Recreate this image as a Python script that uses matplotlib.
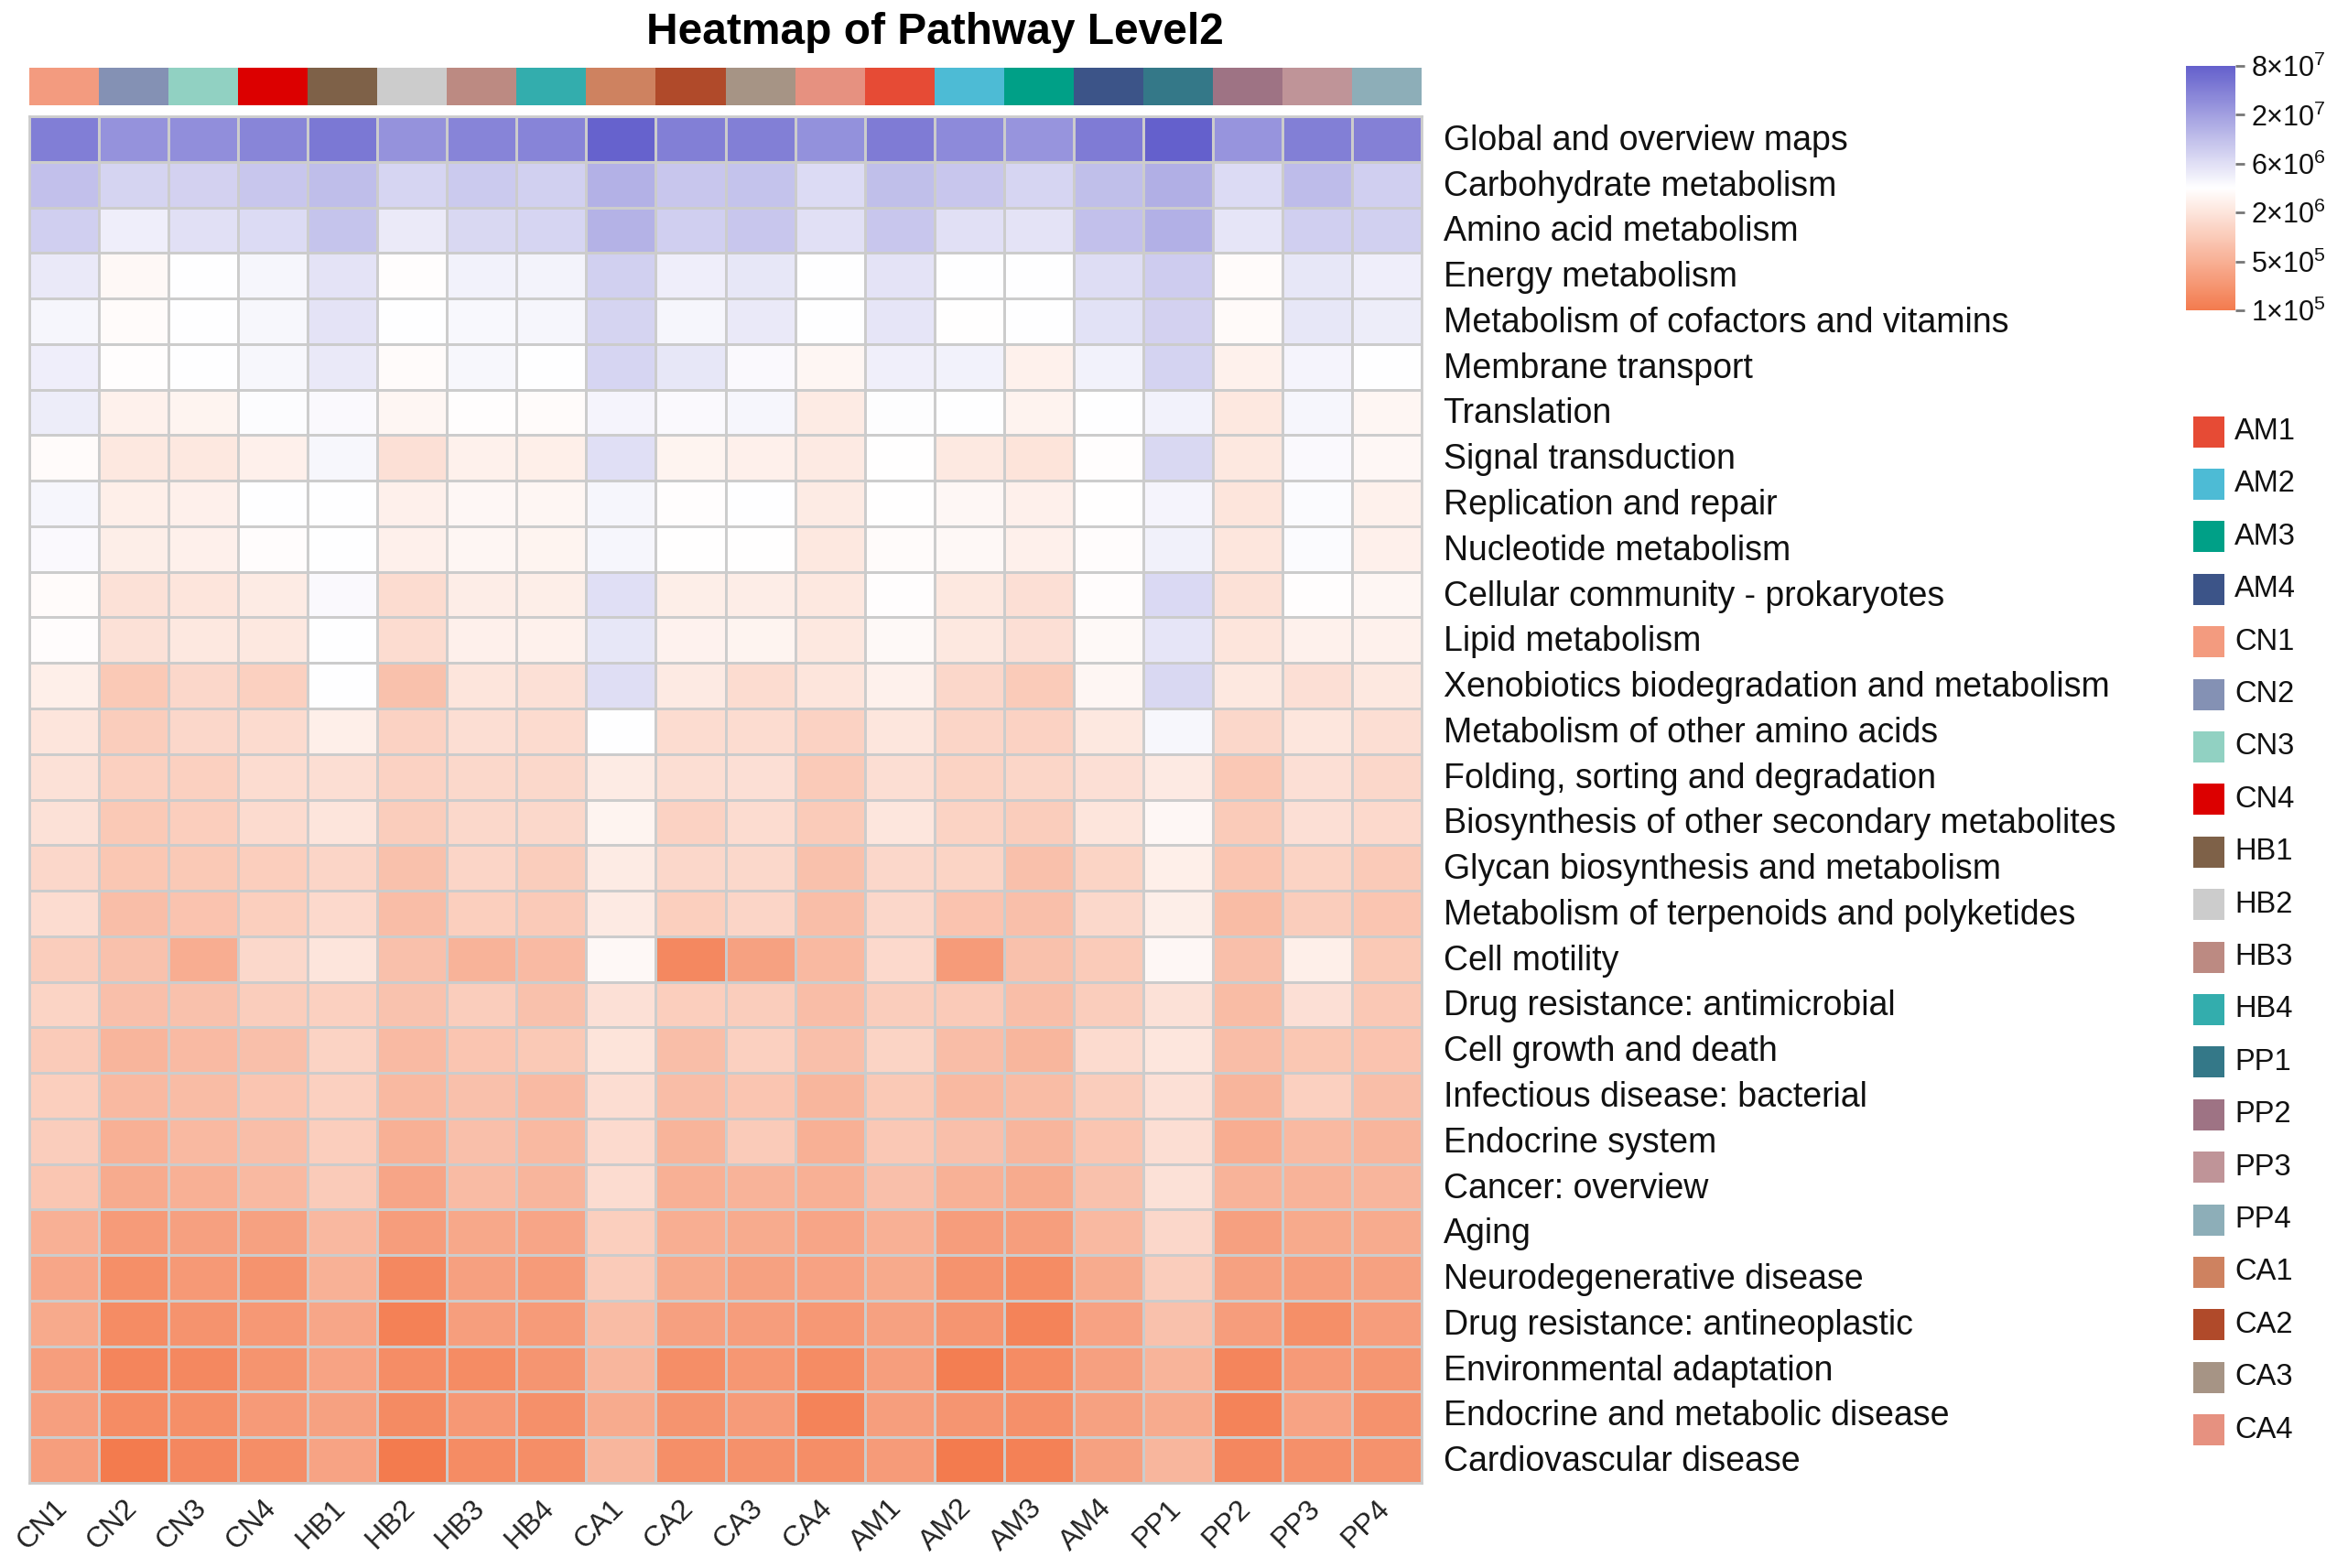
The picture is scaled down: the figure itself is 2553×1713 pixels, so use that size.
import numpy as np
import matplotlib
matplotlib.use('Agg')
import matplotlib.pyplot as plt
from matplotlib.colors import LinearSegmentedColormap, ListedColormap, Normalize
from matplotlib.cm import ScalarMappable
from matplotlib.patches import Rectangle
from matplotlib.transforms import ScaledTranslation

plt.rcParams['font.family'] = ['Liberation Sans', 'DejaVu Sans']
plt.rcParams['mathtext.fontset'] = 'custom'
plt.rcParams['mathtext.rm'] = 'Liberation Sans'

W, H = 2553, 1713

samples = ['CN1', 'CN2', 'CN3', 'CN4', 'HB1', 'HB2', 'HB3', 'HB4', 'CA1', 'CA2',
           'CA3', 'CA4', 'AM1', 'AM2', 'AM3', 'AM4', 'PP1', 'PP2', 'PP3', 'PP4']

pathways = ['Global and overview maps', 'Carbohydrate metabolism', 'Amino acid metabolism',
            'Energy metabolism', 'Metabolism of cofactors and vitamins', 'Membrane transport',
            'Translation', 'Signal transduction', 'Replication and repair', 'Nucleotide metabolism',
            'Cellular community - prokaryotes', 'Lipid metabolism',
            'Xenobiotics biodegradation and metabolism', 'Metabolism of other amino acids',
            'Folding, sorting and degradation', 'Biosynthesis of other secondary metabolites',
            'Glycan biosynthesis and metabolism', 'Metabolism of terpenoids and polyketides',
            'Cell motility', 'Drug resistance: antimicrobial', 'Cell growth and death',
            'Infectious disease: bacterial', 'Endocrine system', 'Cancer: overview', 'Aging',
            'Neurodegenerative disease', 'Drug resistance: antineoplastic', 'Environmental adaptation',
            'Endocrine and metabolic disease', 'Cardiovascular disease']

# log10 of abundance
log_abundance = [
    [7.62, 7.44, 7.48, 7.55, 7.68, 7.44, 7.57, 7.57, 7.87, 7.61, 7.61, 7.45, 7.65, 7.51, 7.42, 7.65, 7.89, 7.42, 7.61, 7.60],
    [7.02, 6.84, 6.86, 6.96, 7.04, 6.83, 6.93, 6.88, 7.16, 6.97, 7.00, 6.77, 7.03, 6.96, 6.83, 7.03, 7.18, 6.77, 7.06, 6.89],
    [6.89, 6.60, 6.73, 6.77, 6.99, 6.64, 6.81, 6.83, 7.15, 6.89, 6.96, 6.73, 6.97, 6.73, 6.70, 7.02, 7.17, 6.68, 6.89, 6.88],
    [6.65, 6.38, 6.45, 6.54, 6.71, 6.43, 6.57, 6.56, 6.88, 6.60, 6.67, 6.45, 6.70, 6.45, 6.45, 6.76, 6.91, 6.41, 6.67, 6.60],
    [6.54, 6.41, 6.45, 6.52, 6.70, 6.45, 6.51, 6.54, 6.84, 6.54, 6.65, 6.45, 6.68, 6.44, 6.45, 6.72, 6.86, 6.40, 6.67, 6.61],
    [6.60, 6.43, 6.45, 6.52, 6.65, 6.41, 6.52, 6.45, 6.83, 6.67, 6.50, 6.35, 6.59, 6.57, 6.30, 6.57, 6.85, 6.30, 6.55, 6.45],
    [6.61, 6.30, 6.33, 6.48, 6.50, 6.35, 6.43, 6.41, 6.55, 6.50, 6.54, 6.23, 6.47, 6.45, 6.32, 6.45, 6.57, 6.19, 6.54, 6.35],
    [6.41, 6.19, 6.20, 6.29, 6.52, 6.12, 6.30, 6.27, 6.74, 6.33, 6.29, 6.22, 6.44, 6.21, 6.15, 6.43, 6.81, 6.19, 6.50, 6.36],
    [6.54, 6.28, 6.29, 6.45, 6.45, 6.29, 6.36, 6.35, 6.54, 6.43, 6.45, 6.23, 6.44, 6.36, 6.29, 6.44, 6.55, 6.16, 6.49, 6.30],
    [6.50, 6.26, 6.29, 6.42, 6.45, 6.29, 6.35, 6.33, 6.54, 6.44, 6.44, 6.20, 6.41, 6.38, 6.29, 6.42, 6.58, 6.17, 6.49, 6.29],
    [6.41, 6.13, 6.16, 6.23, 6.50, 6.07, 6.25, 6.26, 6.74, 6.26, 6.25, 6.19, 6.43, 6.19, 6.10, 6.42, 6.80, 6.13, 6.43, 6.35],
    [6.42, 6.13, 6.19, 6.20, 6.45, 6.07, 6.29, 6.30, 6.67, 6.31, 6.33, 6.19, 6.39, 6.20, 6.10, 6.39, 6.68, 6.16, 6.30, 6.30],
    [6.27, 5.86, 6.01, 5.93, 6.45, 5.78, 6.16, 6.12, 6.75, 6.22, 6.07, 6.16, 6.30, 6.01, 5.88, 6.35, 6.81, 6.19, 6.10, 6.19],
    [6.16, 5.90, 6.01, 6.06, 6.27, 5.96, 6.09, 6.06, 6.45, 6.07, 6.07, 5.96, 6.17, 5.99, 5.96, 6.20, 6.52, 6.01, 6.17, 6.09],
    [6.13, 5.93, 5.93, 6.07, 6.09, 5.96, 6.03, 6.03, 6.23, 6.09, 6.10, 5.87, 6.09, 5.97, 6.00, 6.10, 6.22, 5.84, 6.10, 6.01],
    [6.13, 5.86, 5.91, 6.06, 6.16, 5.90, 6.03, 6.03, 6.33, 5.96, 6.07, 5.88, 6.17, 5.97, 5.90, 6.16, 6.37, 5.88, 6.10, 6.04],
    [6.01, 5.83, 5.85, 5.91, 5.99, 5.78, 5.99, 5.90, 6.23, 6.01, 6.02, 5.78, 6.01, 5.98, 5.77, 5.98, 6.27, 5.81, 5.97, 5.87],
    [6.07, 5.74, 5.80, 5.92, 6.04, 5.73, 5.92, 5.87, 6.22, 5.92, 5.99, 5.74, 6.01, 5.80, 5.75, 6.02, 6.26, 5.72, 5.90, 5.81],
    [5.90, 5.78, 5.55, 6.02, 6.16, 5.77, 5.62, 5.70, 6.38, 5.15, 5.43, 5.69, 6.04, 5.36, 5.78, 5.88, 6.37, 5.75, 6.28, 5.86],
    [5.98, 5.75, 5.78, 5.90, 5.94, 5.79, 5.90, 5.78, 6.12, 5.91, 5.90, 5.73, 5.90, 5.87, 5.74, 5.90, 6.13, 5.72, 6.10, 5.84],
    [5.88, 5.64, 5.70, 5.75, 5.97, 5.70, 5.81, 5.85, 6.15, 5.74, 5.93, 5.75, 5.98, 5.73, 5.65, 6.06, 6.17, 5.73, 5.83, 5.80],
    [5.92, 5.68, 5.72, 5.81, 5.94, 5.68, 5.77, 5.70, 6.08, 5.73, 5.81, 5.65, 5.86, 5.68, 5.72, 5.90, 6.12, 5.64, 5.94, 5.74],
    [5.90, 5.58, 5.68, 5.74, 5.91, 5.58, 5.75, 5.68, 6.05, 5.63, 5.88, 5.58, 5.84, 5.75, 5.64, 5.81, 6.09, 5.55, 5.69, 5.64],
    [5.82, 5.53, 5.58, 5.69, 5.88, 5.47, 5.71, 5.64, 6.07, 5.58, 5.62, 5.58, 5.75, 5.59, 5.53, 5.78, 6.13, 5.62, 5.62, 5.64],
    [5.58, 5.36, 5.41, 5.43, 5.67, 5.38, 5.49, 5.47, 5.92, 5.56, 5.53, 5.47, 5.58, 5.38, 5.39, 5.68, 6.01, 5.41, 5.52, 5.53],
    [5.48, 5.22, 5.33, 5.27, 5.60, 5.15, 5.41, 5.36, 5.88, 5.52, 5.43, 5.44, 5.52, 5.27, 5.19, 5.53, 5.90, 5.43, 5.39, 5.43],
    [5.52, 5.19, 5.27, 5.32, 5.48, 5.07, 5.39, 5.36, 5.72, 5.41, 5.38, 5.32, 5.42, 5.29, 5.10, 5.44, 5.78, 5.38, 5.22, 5.38],
    [5.39, 5.12, 5.15, 5.28, 5.45, 5.20, 5.19, 5.29, 5.65, 5.21, 5.31, 5.19, 5.39, 5.04, 5.19, 5.41, 5.63, 5.12, 5.35, 5.30],
    [5.40, 5.19, 5.22, 5.35, 5.42, 5.18, 5.32, 5.23, 5.53, 5.28, 5.36, 5.10, 5.39, 5.29, 5.23, 5.42, 5.53, 5.10, 5.45, 5.25],
    [5.39, 5.00, 5.14, 5.21, 5.45, 5.01, 5.19, 5.21, 5.65, 5.22, 5.24, 5.21, 5.36, 5.00, 5.07, 5.42, 5.65, 5.14, 5.23, 5.25],
]

group_colors = {'AM1': '#E64B35', 'AM2': '#4DBBD5', 'AM3': '#00A087', 'AM4': '#3C5488',
                'CN1': '#F39B7F', 'CN2': '#8491B4', 'CN3': '#91D1C2', 'CN4': '#DC0000',
                'HB1': '#7E6148', 'HB2': '#CCCCCC', 'HB3': '#BC8A82', 'HB4': '#33ADAD',
                'PP1': '#347888', 'PP2': '#9E7384', 'PP3': '#BF9498', 'PP4': '#8DAEB8',
                'CA1': '#CE8260', 'CA2': '#B04A2A', 'CA3': '#A69485', 'CA4': '#E69180'}

# ticks sit at even steps along the bar, labels are the rounded values
cbar_labels = ['1\u00d710$^{5}$', '5\u00d710$^{5}$', '2\u00d710$^{6}$', '6\u00d710$^{6}$', '2\u00d710$^{7}$', '8\u00d710$^{7}$']


def box(x0, y0, x1, y1):
    # pixel box (top-left origin) to figure fraction
    return [x0 / W, 1 - y1 / H, (x1 - x0) / W, (y1 - y0) / H]


cmap = LinearSegmentedColormap.from_list('level2', ['#F37B4E', '#FFFFFF', '#6460CC'])
norm = Normalize(5.0, 7.9)

fig = plt.figure(figsize=(W / 100, H / 100), dpi=100)

# main heatmap
ax = fig.add_axes(box(32, 127, 1553, 1620))
ax.pcolormesh(np.array(log_abundance), cmap=cmap, norm=norm, edgecolors='#CCCCCC', linewidth=1.8)
ax.set_ylim(len(pathways), 0)
ax.set_xlim(0, len(samples))
for s in ax.spines.values():
    s.set_color('#CCCCCC')
    s.set_linewidth(2)
ax.yaxis.tick_right()
ax.set_yticks(np.arange(len(pathways)) + 0.5)
ax.set_yticklabels(pathways, fontsize=27, color='#111111')
ax.set_xticks(np.arange(len(samples)) + 0.5)
ax.set_xticklabels(samples, fontsize=23, color='#222222', rotation=45, ha='right', rotation_mode='anchor')
ax.tick_params(axis='y', length=0, pad=17)
ax.tick_params(axis='x', length=0, pad=9)
shift = ScaledTranslation(-12 / 100, 0, fig.dpi_scale_trans)
for lab in ax.get_xticklabels():
    lab.set_transform(lab.get_transform() + shift)
shift_y = ScaledTranslation(0, 2 / 100, fig.dpi_scale_trans)
for lab in ax.get_yticklabels():
    lab.set_transform(lab.get_transform() + shift_y)

# annotation strip
ax_top = fig.add_axes(box(32, 74, 1553, 115))
strip = [group_colors[s] for s in samples]
ax_top.pcolormesh(np.arange(len(samples)).reshape(1, -1), cmap=ListedColormap(strip))
ax_top.axis('off')

fig.text(1021 / W, 1 - 35 / H, 'Heatmap of Pathway Level2', fontsize=34.5, fontweight='bold',
         ha='center', va='center')

# colour bar
ax_cb = fig.add_axes(box(2388, 72, 2442, 339))
cb = fig.colorbar(ScalarMappable(norm=norm, cmap=cmap), cax=ax_cb)
cb.outline.set_visible(False)
cb.set_ticks(np.linspace(5.0, 7.9, len(cbar_labels)))
cb.set_ticklabels(cbar_labels)
cb.ax.tick_params(length=7, width=2, color='#777777', labelsize=22, pad=5, labelcolor='#111111')

# group legend
ax_leg = fig.add_axes([0, 0, 1, 1], facecolor='none')
ax_leg.set_xlim(0, W)
ax_leg.set_ylim(H, 0)
ax_leg.axis('off')
for i, (name, col) in enumerate(group_colors.items()):
    yc = 471.5 + i * 57.4
    ax_leg.add_patch(Rectangle((2396, yc - 17), 34, 34, facecolor=col, edgecolor='none'))
    ax_leg.text(2441, yc, name, fontsize=23.5, va='center', ha='left', color='#111111')

fig.savefig('out.png', dpi=100)
